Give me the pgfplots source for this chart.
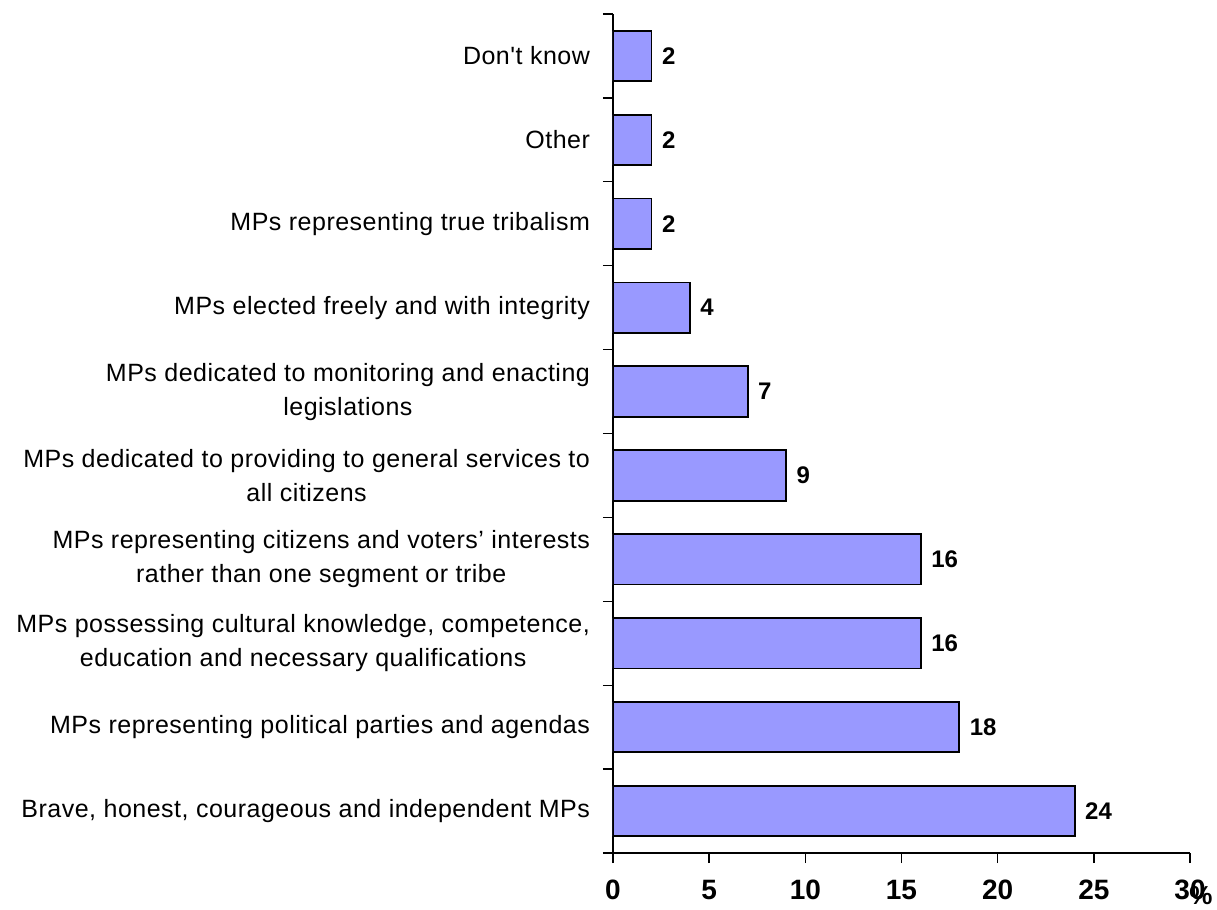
\documentclass[border=0pt]{standalone}
\usepackage{pgfplots}
\pgfplotsset{compat=1.18}
\usepackage{fontspec}
\setmainfont{Liberation Sans}[Ligatures=TeXOff]
\definecolor{barblue}{HTML}{9999FF}
\begin{document}
\begin{tikzpicture}
\begin{axis}[
  scale only axis, width=288.5pt, height=419.5pt,
  xbar, bar width=0.6,
  xmin=0, xmax=30, ymin=-0.5, ymax=9.5,
  axis x line*=bottom, axis y line*=left,
  axis line style={-, line width=0.7pt},
  tick align=outside, major tick length=5pt, minor tick length=5pt,
  tick style={black, line width=0.7pt},
  /pgf/number format/assume math mode=true,
  xtick={0,5,...,30},
  ytick={0,...,9},
  minor ytick={-0.5,0.5,...,9.5},
  every major y tick/.append style={draw=none},
  yticklabels={
    {Brave, honest, courageous and independent MPs},
    {MPs representing political parties and agendas},
    {MPs possessing cultural knowledge, competence,\\education and necessary qualifications},
    {MPs representing citizens and voters’ interests\\rather than one segment or tribe},
    {MPs dedicated to providing to general services to\\all citizens},
    {MPs dedicated to monitoring and enacting\\legislations},
    {MPs elected freely and with integrity},
    {MPs representing true tribalism},
    {Other},
    {Don't know}},
  yticklabel style={align=center, font=\fontsize{12.5}{17}\selectfont\addfontfeatures{LetterSpace=2}, xshift=-3pt},
  xticklabel style={font=\bfseries\fontsize{14}{16}\selectfont, yshift=-5pt},
  nodes near coords,
  nodes near coords style={font=\bfseries\fontsize{12}{13}\selectfont, anchor=west, xshift=1.5pt},
]
\addplot[fill=barblue, draw=black, line width=0.9pt] coordinates {
  (24,0) (18,1) (16,2) (16,3) (9,4) (7,5) (4,6) (2,7) (2,8) (2,9)
};
\end{axis}
\node[font=\bfseries\fontsize{13}{16}\selectfont, anchor=north] at ([xshift=5.5pt, yshift=-13pt]current axis.south east) {\%};
\pgfresetboundingbox
\path ([xshift=-306.5pt, yshift=-28pt]current axis.south west) rectangle ([xshift=13.5pt, yshift=7pt]current axis.north east);
\end{tikzpicture}
\end{document}
